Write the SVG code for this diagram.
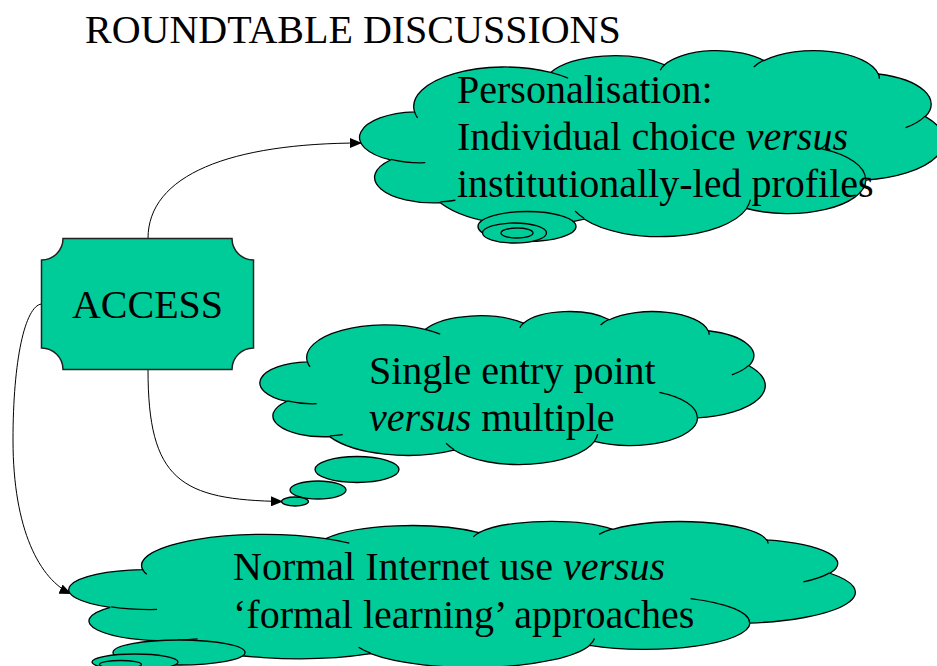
<svg xmlns="http://www.w3.org/2000/svg" xmlns:xlink="http://www.w3.org/1999/xlink" width="937" height="666" viewBox="0 0 937 666">
<style>
.fill{fill:#00CC99;stroke:#000;stroke-width:1.3;vector-effect:non-scaling-stroke}
.inner{fill:none;stroke:#000;stroke-width:1.3;vector-effect:non-scaling-stroke}
.bub{fill:#00CC99;stroke:#000;stroke-width:1.3}
.conn{fill:none;stroke:#000;stroke-width:1}
.t{font-family:"Liberation Serif","Times New Roman",serif;font-size:40px;fill:#000}
.i{font-style:italic}
</style>
<defs>
<path id="cloudShape" class="fill" d="M3900,14370 A6753,9190 0 0 1 14005,5202 A5333,7267 0 0 1 22456,3432 A4365,5945 0 0 1 29833,2481 A4857,6595 0 0 1 38318,5575 A5333,7273 0 0 1 41819,15459 A6775,9220 0 0 1 37404,30202 A5785,7867 0 0 1 28556,36813 A6752,9215 0 0 1 16481,39264 A7720,10543 0 0 1 5804,35468 A4360,5918 0 0 1 2113,25546 A4345,5945 0 0 1 3900,14370 Z"/>
<path id="cloudInner" class="inner" d="M4693,26177 A4345,5945 0 0 1 2160,25380 M6928,34899 A4360,5918 0 0 1 5820,35281 M16478,39090 A6752,9215 0 0 1 15810,37350 M28827,34751 A6752,9215 0 0 1 28560,36660 M34129,22954 A5785,7867 0 0 1 37380,30090 M41798,15354 A5333,7273 0 0 1 40350,18030 M38324,5426 A4857,6595 0 0 1 38401,6690 M29078,3952 A4857,6595 0 0 1 29820,2339 M22141,4720 A4365,5945 0 0 1 22500,3331 M14000,5192 A6753,9190 0 0 1 15300,6540 M4127,15789 A6753,9190 0 0 1 3900,14371"/>
<marker id="arrow" viewBox="0 0 12 10" refX="12" refY="5" markerWidth="12" markerHeight="10" orient="auto" markerUnits="userSpaceOnUse">
<path d="M0,0 L12,5 L0,10 Z" fill="#000"/>
</marker>
</defs>
<rect width="937" height="666" fill="#fff"/>
<text id="title" class="t" x="85" y="43">ROUNDTABLE DISCUSSIONS</text>

<g id="connectors">
<path class="conn" d="M148,238.5 C148,175 230,143 362,143" marker-end="url(#arrow)"/>
<path class="conn" d="M148,369.5 C148,480 180,500 283,501.5" marker-end="url(#arrow)"/>
<path class="conn" d="M41.5,304 C25,306 13,360 13,440 C13,530 40,580 71.5,594" marker-end="url(#arrow)"/>
</g>

<g id="access">
<path d="M63,238.5 H232 A21.5,21.5 0 0 0 253.5,260 V348 A21.5,21.5 0 0 0 232,369.5 H63 A21.5,21.5 0 0 0 41.5,348 V260 A21.5,21.5 0 0 0 63,238.5 Z" fill="#00CC99" stroke="#222" stroke-width="1.5"/>
<text class="t" x="147.5" y="318" text-anchor="middle">ACCESS</text>
</g>

<g id="cloud-personalisation">
<g transform="translate(362,50) scale(0.013472,0.0043056)">
<use xlink:href="#cloudShape" href="#cloudShape"/>
<use xlink:href="#cloudInner" href="#cloudInner"/>
</g>
<ellipse class="bub" cx="527" cy="226.5" rx="49" ry="15"/>
<ellipse class="bub" cx="514.5" cy="233" rx="32" ry="10"/>
<ellipse class="bub" cx="517" cy="233" rx="16" ry="5"/>
<text class="t" x="457" y="103">Personalisation:</text>
<text class="t" x="457" y="150">Individual choice <tspan class="i">versus</tspan></text>
<text class="t" x="457" y="197">institutionally-led profiles</text>
</g>

<g id="cloud-entry">
<g transform="translate(262,311) scale(0.011644,0.0035417)">
<use xlink:href="#cloudShape" href="#cloudShape"/>
<use xlink:href="#cloudInner" href="#cloudInner"/>
</g>
<ellipse class="bub" cx="357" cy="469.5" rx="42" ry="13"/>
<ellipse class="bub" cx="318" cy="490" rx="28" ry="9"/>
<ellipse class="bub" cx="295" cy="501.5" rx="13.5" ry="4.5"/>
<text class="t" x="369" y="384">Single entry point</text>
<text class="t" x="369" y="431"><tspan class="i">versus</tspan> multiple</text>
</g>

<g id="cloud-internet">
<g transform="translate(72,521) scale(0.018125,0.0033796)">
<use xlink:href="#cloudShape" href="#cloudShape"/>
<use xlink:href="#cloudInner" href="#cloudInner"/>
</g>
<ellipse class="bub" cx="179" cy="652.5" rx="66" ry="12.5"/>
<ellipse class="bub" cx="135" cy="662" rx="43" ry="8"/>
<ellipse class="bub" cx="120.5" cy="664.5" rx="21" ry="4"/>
<text class="t" x="233" y="580">Normal Internet use <tspan class="i">versus</tspan></text>
<text class="t" x="233" y="628">‘formal learning’ approaches</text>
</g>
</svg>
